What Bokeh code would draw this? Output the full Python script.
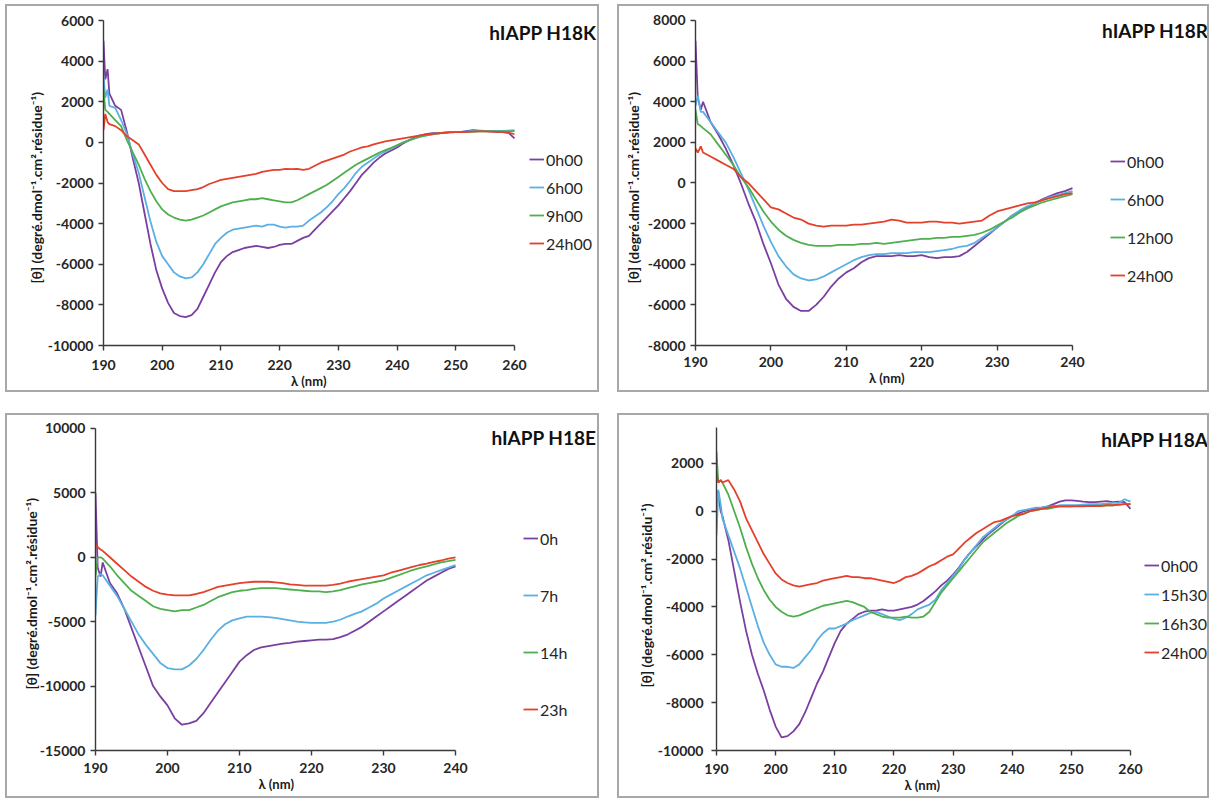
from bokeh.plotting import figure
from bokeh.models import Range1d, FixedTicker, Label, Title
from bokeh.layouts import row, column
from bokeh.embed import file_html
from bokeh.resources import INLINE

FONT = "Lato"
PURPLE = "#7B3FA0"
BLUE = "#5AB0E2"
GREEN = "#4FAF4F"
RED = "#E5402B"

# ---------------- data ----------------
# wavelengths (nm)
wl_k = [190, 190.3, 190.7] + list(range(191, 261))
wl_r = [190, 190.3, 190.7] + list(range(191, 241))
wl_e = [190, 190.3, 190.7] + list(range(191, 241))
wl_a = [190, 190.3, 190.7] + list(range(191, 261))

# hIAPP H18K
k_labels = ["0h00", "6h00", "9h00", "24h00"]
k_0h00 = [5000, 3100, 3600,
          2400, 1800, 1600, 500, -800, -2000, -3500, -5000, -6300, -7200,
          -7900, -8400, -8550, -8600, -8500, -8200, -7600, -7000, -6400, -5900,
          -5600, -5400, -5300, -5200, -5150, -5100, -5150, -5200, -5150, -5050,
          -5000, -5000, -4850, -4700, -4600, -4300, -4000, -3700, -3400, -3100,
          -2750, -2400, -2000, -1600, -1300, -1000, -750, -550, -400, -250,
          -50, 100, 250, 350, 400, 450, 450, 480, 500, 500,
          520, 560, 600, 580, 560, 540, 520, 500, 470, 200]
k_6h00 = [3300, 2200, 2600,
          1800, 1700, 1100, 400, -600, -1500, -2700, -3900, -4900, -5600,
          -6000, -6400, -6600, -6700, -6650, -6400, -6000, -5500, -5000, -4700,
          -4450, -4300, -4250, -4200, -4150, -4100, -4150, -4050, -4050, -4150,
          -4200, -4150, -4150, -4100, -3850, -3650, -3450, -3200, -2900, -2550,
          -2250, -1900, -1500, -1200, -1000, -800, -600, -450, -300, -150,
          0, 100, 200, 300, 350, 400, 450, 480, 500, 500,
          520, 540, 560, 560, 560, 560, 560, 560, 580, 600]
k_9h00 = [2600, 1600, 1500,
          1400, 1100, 800, 100, -500, -1100, -1800, -2400, -2900, -3300,
          -3550, -3700, -3800, -3850, -3800, -3700, -3600, -3450, -3300, -3150,
          -3050, -2950, -2900, -2850, -2800, -2800, -2750, -2800, -2850, -2900,
          -2950, -2950, -2850, -2700, -2550, -2400, -2250, -2100, -1900, -1700,
          -1500, -1300, -1100, -950, -800, -650, -500, -380, -270, -150,
          -20, 100, 200, 280, 350, 400, 450, 470, 490, 500,
          510, 520, 530, 540, 540, 540, 540, 540, 540, 550]
k_24h00 = [600, 1400, 1000,
           900, 800, 600, 300, 100, -100, -600, -1100, -1600, -2000,
           -2300, -2400, -2400, -2400, -2350, -2300, -2200, -2050, -1950, -1850,
           -1800, -1750, -1700, -1650, -1600, -1550, -1450, -1400, -1350, -1350,
           -1300, -1320, -1300, -1350, -1300, -1150, -1000, -900, -800, -700,
           -600, -450, -350, -250, -200, -100, -20, 50, 100, 150,
           200, 250, 300, 350, 400, 420, 450, 470, 490, 500,
           510, 520, 530, 540, 540, 530, 520, 500, 480, 400]

# hIAPP H18R
r_labels = ["0h00", "6h00", "12h00", "24h00"]
r_0h00 = [7000, 4200, 3600,
          4000, 3000, 2400, 1700, 900, 0, -1000, -1900, -3000, -3950,
          -5000, -5700, -6100, -6300, -6300, -6000, -5600, -5100, -4700, -4400,
          -4200, -3900, -3700, -3600, -3600, -3600, -3550, -3600, -3600, -3550,
          -3650, -3700, -3650, -3650, -3600, -3400, -3100, -2800, -2500, -2200,
          -1900, -1600, -1400, -1200, -1000, -800, -650, -500, -400, -250]
r_6h00 = [3800, 4300, 3500,
          3500, 3000, 2500, 2000, 1300, 500, -300, -1200, -2100, -2900,
          -3600, -4100, -4500, -4700, -4800, -4750, -4600, -4400, -4200, -4000,
          -3800, -3650, -3550, -3500, -3500, -3450, -3450, -3450, -3400, -3400,
          -3400, -3350, -3300, -3250, -3150, -3100, -2950, -2700, -2450, -2200,
          -1900, -1600, -1350, -1150, -1000, -850, -700, -600, -500, -400]
r_12h00 = [3600, 2900, 2800,
           2700, 2400, 1900, 1400, 900, 300, -200, -800, -1400, -1900,
           -2300, -2600, -2800, -2950, -3050, -3100, -3100, -3100, -3050, -3050,
           -3050, -3000, -3000, -2950, -3000, -2950, -2900, -2850, -2800, -2750,
           -2750, -2700, -2700, -2650, -2650, -2600, -2550, -2450, -2300, -2100,
           -1900, -1700, -1450, -1250, -1100, -950, -850, -750, -650, -550]
r_24h00 = [1700, 1500, 1800,
           1500, 1300, 1100, 900, 700, 300, 0, -400, -800, -1200,
           -1300, -1500, -1700, -1800, -2000, -2100, -2150, -2100, -2100, -2100,
           -2050, -2050, -2000, -1950, -1900, -1800, -1850, -1950, -1950, -1950,
           -1900, -1900, -1950, -1950, -2000, -1950, -1900, -1850, -1600, -1400,
           -1300, -1200, -1100, -1000, -950, -850, -750, -650, -550, -500]

# hIAPP H18E
e_labels = ["0h", "7h", "14h", "23h"]
e_0h = [5000, -800, -1500,
        -400, -2000, -2800, -4000, -5500, -7000, -8500, -10000, -10800, -11500,
        -12500, -13000, -12900, -12700, -12100, -11300, -10500, -9700, -8900, -8100,
        -7600, -7200, -7000, -6900, -6800, -6700, -6650, -6550, -6500, -6450,
        -6400, -6400, -6350, -6200, -6000, -5700, -5400, -5000, -4600, -4200,
        -3800, -3400, -3000, -2600, -2200, -1800, -1500, -1200, -900, -700]
e_7h = [-4500, -1500, -1300,
        -1400, -2200, -3000, -4000, -5000, -6000, -6800, -7500, -8200, -8600,
        -8700, -8700, -8400, -7900, -7200, -6400, -5700, -5200, -4900, -4750,
        -4600, -4600, -4600, -4650, -4700, -4800, -4900, -5000, -5050, -5100,
        -5100, -5100, -5000, -4850, -4600, -4400, -4200, -3900, -3600, -3200,
        -2900, -2600, -2300, -2000, -1700, -1400, -1200, -1000, -800, -600]
e_14h = [-1500, 0, 0,
         -100, -700, -1400, -2000, -2600, -3000, -3400, -3800, -4000, -4100,
         -4200, -4100, -4100, -3900, -3700, -3400, -3100, -2900, -2700, -2600,
         -2550, -2450, -2400, -2400, -2400, -2450, -2500, -2550, -2600, -2650,
         -2650, -2700, -2650, -2550, -2400, -2250, -2100, -2000, -1900, -1800,
         -1600, -1400, -1200, -1000, -850, -700, -550, -400, -300, -200]
e_23h = [1000, 800, 600,
         500, 0, -500, -1000, -1500, -1900, -2300, -2600, -2800, -2900,
         -2950, -2950, -2950, -2850, -2700, -2500, -2300, -2200, -2100, -2000,
         -1950, -1900, -1900, -1900, -1950, -2000, -2100, -2150, -2200, -2200,
         -2200, -2200, -2150, -2050, -1900, -1800, -1700, -1600, -1500, -1400,
         -1200, -1050, -900, -750, -600, -500, -350, -250, -100, 0]

# hIAPP H18A
a_labels = ["0h00", "15h30", "16h30", "24h00"]
a_0h00 = [800, 800, 0,
          -200, -1200, -2500, -3800, -5000, -6000, -6800, -7500, -8300, -9000,
          -9450, -9400, -9200, -8900, -8400, -7800, -7200, -6700, -6100, -5500,
          -5000, -4700, -4500, -4300, -4200, -4150, -4150, -4100, -4150, -4150,
          -4100, -4050, -4000, -3900, -3750, -3550, -3350, -3100, -2900, -2650,
          -2350, -2000, -1700, -1450, -1200, -950, -750, -550, -350, -200,
          -100, 0, 50, 100, 150, 200, 300, 400, 450, 450,
          430, 400, 380, 380, 400, 420, 380, 400, 380, 100]
a_15h30 = [-1000, 900, 300,
           -300, -1000, -1700, -2400, -3200, -4000, -4800, -5500, -6000, -6400,
           -6500, -6500, -6550, -6400, -6100, -5800, -5400, -5100, -4900, -4900,
           -4800, -4700, -4550, -4450, -4350, -4250, -4200, -4300, -4400, -4500,
           -4550, -4450, -4300, -4100, -4000, -3900, -3700, -3300, -3000, -2700,
           -2400, -2000, -1700, -1400, -1100, -900, -700, -500, -350, -200,
           0, 50, 100, 150, 150, 200, 200, 250, 250, 250,
           250, 280, 300, 300, 300, 320, 350, 350, 500, 400]
a_16h30 = [2500, 1200, 1300,
           1200, 700, 0, -700, -1500, -2200, -2800, -3300, -3700, -4000,
           -4200, -4350, -4400, -4350, -4250, -4150, -4050, -3950, -3900, -3850,
           -3800, -3750, -3800, -3900, -4000, -4200, -4300, -4400, -4450, -4450,
           -4450, -4400, -4450, -4450, -4400, -4200, -3800, -3400, -3100, -2800,
           -2500, -2200, -1900, -1600, -1300, -1100, -900, -700, -500, -350,
           -200, -100, 0, 50, 100, 100, 150, 200, 200, 200,
           220, 220, 220, 230, 230, 250, 250, 270, 300, 300]
a_24h00 = [1600, 1200, 1300,
           1200, 1300, 900, 400, -300, -800, -1300, -1800, -2200, -2600,
           -2850, -3000, -3100, -3150, -3100, -3050, -3000, -2900, -2850, -2800,
           -2750, -2700, -2750, -2750, -2800, -2800, -2850, -2900, -2950, -3000,
           -2900, -2750, -2700, -2600, -2450, -2300, -2200, -2050, -1900, -1800,
           -1550, -1300, -1100, -900, -750, -600, -450, -400, -300, -200,
           -150, -100, 0, 50, 100, 150, 200, 200, 200, 200,
           200, 200, 220, 220, 220, 250, 250, 280, 300, 300]

Y_LABEL = "[θ] (degré.dmol⁻¹.cm².résidue⁻¹)"
Y_LABEL_A = "[θ] (degré.dmol⁻¹.cm².résidu⁻¹)"
X_LABEL = "λ (nm)"
COLORS = [PURPLE, BLUE, GREEN, RED]


def panel(title, wl, labels, series, xr, yr, xticks, yticks, ylabel,
          w, h, frame_left, x_end_px, y_top_px, mb_bottom, title_xy,
          leg_loc, leg_spacing, ytick_standoff, xtick_standoff,
          ylab_offset, ylab_standoff, xlab_dx=0):
    # the frame spans to the right and top canvas edges so that the legend and
    # the panel title (drawn inside the frame) are not clipped; the axes are
    # bounded to the data span
    frame_bottom = h - mb_bottom
    ppx = (x_end_px - frame_left) / (xr[1] - xr[0])
    ppy = (frame_bottom - y_top_px) / (yr[1] - yr[0])
    x_hi = xr[0] + (w - frame_left) / ppx
    y_hi = yr[0] + frame_bottom / ppy
    p = figure(width=w, height=h, output_backend="svg", toolbar_location=None,
               x_range=Range1d(xr[0], x_hi), y_range=Range1d(yr[0], y_hi),
               min_border_left=frame_left, min_border_right=0,
               min_border_top=0, min_border_bottom=mb_bottom,
               styles={"border": "2px solid #a8a8a8"})
    p.background_fill_color = "white"
    p.border_fill_color = "white"
    p.outline_line_color = None
    p.grid.visible = False
    for lab, vals, col in zip(labels, series, COLORS):
        p.line(wl, vals, line_color=col, line_width=1.8, legend_label=lab)
    p.xaxis.ticker = FixedTicker(ticks=xticks)
    p.yaxis.ticker = FixedTicker(ticks=yticks)
    p.xaxis.bounds = (xr[0], xr[1])
    p.yaxis.bounds = (yr[0], yr[1])
    p.yaxis.major_label_overrides = {t: str(t) for t in yticks}
    for ax in (p.xaxis[0], p.yaxis[0]):
        ax.axis_line_color = "#3a3a3a"
        ax.axis_line_width = 1.4
        ax.major_tick_line_color = "#3a3a3a"
        ax.major_tick_line_width = 1.4
        ax.major_tick_out = 5
        ax.major_tick_in = 0
        ax.minor_tick_line_color = None
        ax.major_label_text_font = FONT
        ax.major_label_text_font_style = "bold"
        ax.major_label_text_font_size = "14px"
        ax.major_label_text_color = "#262626"
    p.xaxis.major_label_standoff = xtick_standoff
    p.yaxis.major_label_standoff = ytick_standoff
    p.yaxis.major_label_orientation = "horizontal"

    # axis titles, centred on the bounded axes (not the whole frame)
    xl_offset = (x_end_px - frame_left) / 2 + xlab_dx - 18
    p.add_layout(Title(text=X_LABEL, align="left", offset=xl_offset,
                       vertical_align="top", standoff=0,
                       text_font=FONT, text_font_style="bold",
                       text_font_size="13px", text_color="#1a1a1a"), "below")
    p.add_layout(Title(text=ylabel, align="left", offset=ylab_offset,
                       vertical_align="bottom", standoff=ylab_standoff,
                       text_font=FONT, text_font_style="bold",
                       text_font_size="14px", text_color="#1a1a1a"), "left")

    leg = p.legend[0]
    leg.location = leg_loc
    leg.padding = 0
    leg.margin = 0
    leg.spacing = leg_spacing
    leg.label_height = 20
    leg.glyph_height = 20
    leg.glyph_width = 15
    leg.label_standoff = 2
    leg.border_line_alpha = 0
    leg.background_fill_alpha = 0
    leg.label_text_font = FONT
    leg.label_text_font_size = "16px"
    leg.label_text_color = "#262626"

    p.add_layout(Label(x=title_xy[0], y=title_xy[1], x_units="canvas",
                       y_units="canvas", text=title, text_align="right",
                       text_baseline="middle", text_font=FONT,
                       text_font_style="bold", text_font_size="19px",
                       text_color="#111111"))
    return p


p1 = panel("hIAPP H18K", wl_k, k_labels, [k_0h00, k_6h00, k_9h00, k_24h00],
           (190, 260), (-10000, 6000), list(range(190, 261, 10)),
           list(range(-10000, 6001, 2000)), Y_LABEL,
           594, 388, 96, 507, 14, 49, (587, 24), (426, 92), 8,
           5, 9, 62, 0)
p2 = panel("hIAPP H18R", wl_r, r_labels, [r_0h00, r_6h00, r_12h00, r_24h00],
           (190, 240), (-8000, 8000), list(range(190, 241, 10)),
           list(range(-8000, 8001, 2000)), Y_LABEL,
           592, 388, 76, 453, 14, 48, (587, 22), (415, 60), 18,
           5, 6, 62, 6, 3)
p3 = panel("hIAPP H18E", wl_e, e_labels, [e_0h, e_7h, e_14h, e_23h],
           (190, 240), (-15000, 10000), list(range(190, 241, 10)),
           list(range(-15000, 10001, 5000)), Y_LABEL,
           594, 385, 88, 448, 13, 49, (587, 20), (428, 31), 37,
           5, 7, 61, -6, 1)
p4 = panel("hIAPP H18A", wl_a, a_labels, [a_0h00, a_15h30, a_16h30, a_24h00],
           (190, 260), (-10000, 3500), list(range(190, 261, 10)),
           list(range(-10000, 2001, 2000)), Y_LABEL_A,
           592, 385, 97, 511, 12, 50, (587, 22), (428, 88), 9,
           8, 8, 63, 0, -1)

# the 2px CSS borders are not counted by the layout, hence the wider gaps
layout = column(row(p1, p2, spacing=18), row(p3, p4, spacing=18), spacing=21,
                margin=(4, 0, 0, 5))

open("out.html", "w").write(file_html(layout, INLINE))
